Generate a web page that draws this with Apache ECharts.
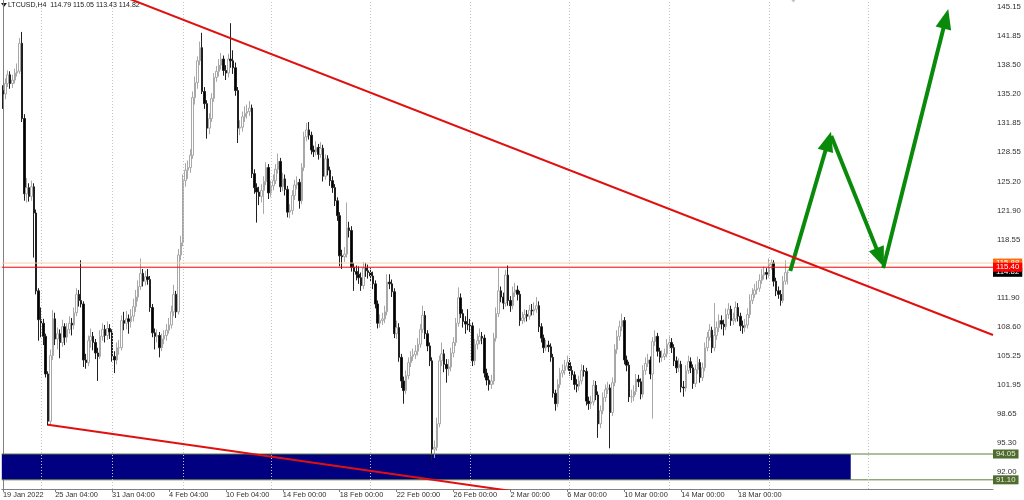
<!DOCTYPE html>
<html><head><meta charset="utf-8">
<script src="https://cdn.jsdelivr.net/npm/echarts@6/dist/echarts.min.js"></script>
<style>html,body{margin:0;padding:0;background:#fff}#c{width:1024px;height:500px}</style>
</head><body><div id="c"></div>
<script>
// ---------- data ----------
const symbolName = 'LTCUSD,H4';
const firstOpen = 135.6;
const closes = [
135.2,136.4,137.4,136.4,136.8,137.6,137.8,141.0,132.4,123.8,
124.5,123.5,124.6,121.6,112.7,109.4,109.0,107.5,103.2,97.8,
105.3,109.5,107.2,107.8,106.8,108.6,107.4,108.3,109.0,108.8,
110.2,112.3,111.6,111.2,104.8,104.5,107.0,107.5,106.8,105.6,
105.2,107.5,108.3,107.6,108.4,108.0,105.2,104.8,106.2,106.2,
109.3,109.0,109.5,109.2,109.8,110.9,112.0,113.2,114.7,113.8,
114.3,114.0,110.8,107.9,107.5,107.6,106.2,107.2,107.6,108.2,
108.8,110.3,112.3,110.3,116.8,118.2,125.3,126.5,126.8,128.2,
134.8,136.5,139.0,140.5,135.5,134.1,131.3,132.4,134.7,137.1,
137.8,138.5,139.2,137.9,137.6,139.2,139.0,138.2,135.6,131.3,
131.4,132.6,133.0,133.2,133.6,126.1,124.5,124.0,123.5,124.2,
125.2,126.8,123.9,124.7,125.3,126.6,127.5,124.6,125.5,124.3,
121.7,121.9,123.6,124.8,125.1,123.0,126.8,130.3,131.1,130.5,
128.8,128.6,129.1,128.3,129.0,125.8,127.8,126.5,125.3,124.5,
123.0,121.3,116.7,116.6,116.9,119.9,119.6,115.4,114.9,114.6,
114.2,113.3,115.3,115.0,114.8,114.4,113.5,111.2,109.0,109.3,
109.5,110.3,113.7,113.5,112.6,107.8,108.5,105.1,102.4,101.3,
103.0,104.5,105.2,105.4,105.8,106.6,108.3,109.9,107.8,106.4,
104.7,94.6,94.8,97.5,104.7,105.5,104.3,103.8,104.0,105.6,
106.8,109.0,111.9,110.1,109.2,108.9,108.8,108.7,104.7,106.6,
107.0,107.5,107.3,103.3,102.5,102.0,102.4,107.3,110.1,112.7,
112.0,111.3,114.5,111.6,111.0,112.5,112.8,112.3,109.3,109.6,
110.0,109.8,110.5,110.4,110.6,111.0,108.6,107.3,106.2,106.5,
106.3,105.1,101.0,99.8,102.0,103.3,103.6,104.1,104.5,103.6,
103.1,102.0,101.8,102.4,103.6,103.5,100.1,99.8,100.0,101.9,
100.8,97.5,99.0,100.5,101.4,101.6,98.8,102.2,106.0,107.5,
108.6,109.3,104.8,104.2,100.6,100.6,101.2,102.6,102.3,100.9,
103.6,104.4,104.8,103.2,106.9,107.5,105.8,105.1,105.2,105.5,
106.6,106.8,106.2,104.7,103.9,104.3,101.7,101.6,103.6,104.6,
103.9,102.1,103.7,104.5,102.8,103.9,106.2,107.4,108.2,106.2,
107.6,108.5,109.3,108.9,108.6,110.0,110.6,109.3,109.5,110.8,
109.8,108.7,108.5,108.8,110.0,111.6,112.3,112.8,113.0,113.9,
114.5,114.8,114.6,115.7,115.9,113.8,112.7,112.3,111.6,113.8,
114.79,114.82];
const highs = [
136.2,137.0,137.9,137.8,137.4,138.1,138.7,141.6,142.3,132.9,
125.6,125.0,125.3,125.0,122.0,113.0,110.8,109.5,107.8,103.5,
106.0,110.5,110.2,108.5,108.3,109.4,109.0,109.0,109.8,109.6,
110.8,113.0,112.8,116.2,111.5,105.5,107.6,108.4,108.0,107.2,
106.2,108.2,109.0,108.8,109.2,108.9,108.3,105.8,106.8,107.1,
109.9,110.3,110.4,110.0,110.6,111.8,112.8,113.9,116.4,115.2,
115.0,115.2,114.4,111.2,108.4,108.3,108.0,107.8,108.2,108.9,
109.6,111.0,113.4,112.7,117.5,119.0,126.0,127.3,127.6,128.9,
135.5,137.2,139.5,141.2,142.2,136.0,134.5,133.0,135.3,137.6,
138.4,139.2,139.9,139.6,138.5,139.8,143.3,140.2,138.8,136.0,
132.2,133.2,133.8,134.0,134.4,134.0,126.6,125.0,124.6,124.9,
125.8,127.4,127.2,125.3,126.0,127.2,128.4,127.9,126.2,126.0,
124.7,122.6,124.2,125.4,125.8,125.5,127.3,130.9,131.9,132.0,
130.9,129.3,129.8,129.5,129.7,129.4,128.3,128.2,126.9,125.8,
124.9,123.4,121.7,117.4,117.7,122.8,120.6,120.1,115.9,115.6,
115.5,114.8,116.0,115.9,115.7,115.3,114.9,113.9,111.6,110.0,
110.2,111.0,114.6,114.6,114.0,113.0,109.3,109.0,105.5,102.9,
103.6,105.1,105.8,106.1,106.5,107.3,108.9,111.0,110.4,108.2,
106.8,105.1,95.6,98.2,105.3,106.8,106.0,104.9,104.9,106.2,
107.4,109.6,113.1,112.4,110.6,109.8,110.6,109.5,109.1,107.2,
107.8,108.4,108.0,107.7,103.8,103.0,103.1,107.9,110.8,115.3,
113.2,112.5,115.1,115.6,112.1,113.2,113.6,113.3,112.7,110.3,
110.6,110.5,111.1,111.2,111.4,112.0,111.5,109.0,107.7,107.1,
107.0,106.7,105.5,101.4,102.6,103.9,104.3,104.8,105.3,105.0,
104.1,103.5,102.6,103.0,104.3,104.2,103.9,100.6,100.7,102.5,
102.4,101.2,99.6,101.1,102.0,102.3,102.0,102.8,106.6,108.2,
109.3,110.1,109.7,105.3,104.6,101.4,101.9,103.2,103.1,102.7,
104.2,105.1,105.5,105.2,107.4,108.2,107.9,106.2,105.9,106.1,
107.2,107.5,107.3,106.6,105.2,105.0,104.7,102.4,104.2,105.3,
105.1,104.3,104.3,105.2,104.9,104.5,106.8,108.0,108.9,108.6,
111.3,109.2,110.0,109.9,109.4,110.7,111.3,111.0,110.2,111.5,
111.3,110.2,109.3,109.5,110.7,112.3,113.0,113.5,113.8,114.6,
115.2,115.5,115.3,116.4,116.3,116.2,114.2,113.2,112.8,114.4,
116.2,115.05];
const lows = [
133.5,134.6,136.0,135.8,135.9,136.4,137.2,137.5,132.0,123.0,
122.8,122.9,123.0,116.5,112.3,107.0,107.4,106.5,102.8,97.3,
97.4,104.8,106.5,106.0,105.0,106.3,106.5,106.8,107.8,107.6,
108.3,109.8,110.9,110.8,104.0,103.8,104.1,106.2,105.9,104.9,
102.4,104.9,107.0,106.8,107.1,107.2,104.6,103.3,104.3,105.4,
105.9,108.2,108.3,107.8,108.5,109.2,110.3,111.5,112.8,113.2,
113.3,113.4,110.3,107.4,106.0,106.8,105.1,105.8,106.6,107.0,
107.8,108.4,109.8,109.6,110.0,116.2,117.8,124.6,125.5,126.2,
127.8,134.0,135.8,138.5,135.2,133.5,130.1,130.6,132.0,134.3,
136.6,137.2,138.0,137.3,136.8,137.1,138.2,137.5,135.0,129.6,
130.5,130.9,132.0,132.4,132.7,125.6,123.8,120.5,122.5,122.8,
121.5,124.8,123.2,123.4,124.2,124.9,126.1,124.0,124.1,123.6,
121.1,121.0,121.4,123.1,124.3,122.1,122.6,126.4,129.8,130.0,
128.3,128.0,128.2,127.7,127.9,125.2,125.4,125.9,124.7,123.9,
122.4,120.7,115.5,115.2,116.0,116.5,118.8,114.9,112.7,113.9,
113.5,112.7,112.9,114.3,114.1,113.8,112.9,110.7,108.4,108.5,
108.8,109.0,109.9,112.9,112.0,107.3,107.2,104.6,101.6,99.8,
100.9,102.6,104.0,104.7,104.9,105.3,106.2,107.9,107.2,105.8,
104.1,93.3,93.6,94.4,97.1,104.1,103.4,102.2,103.0,103.5,
105.1,106.4,108.6,109.6,108.5,107.8,108.2,108.0,104.1,104.2,
106.0,106.6,106.6,102.8,101.9,101.3,101.5,102.0,106.9,109.7,
111.4,110.6,110.9,111.0,110.3,110.6,112.0,111.6,108.7,108.9,
109.1,109.2,109.4,109.9,109.9,110.2,108.0,106.8,105.6,105.8,
105.7,104.6,100.5,99.0,99.4,101.6,102.8,103.1,103.7,103.0,
102.5,101.4,101.1,101.3,102.0,102.9,99.6,99.1,99.2,99.6,
100.2,95.9,97.0,98.6,100.0,100.9,94.7,98.4,101.8,105.5,
107.0,108.1,104.3,103.5,100.0,99.9,100.1,100.8,101.7,100.3,
100.5,103.1,104.0,102.6,98.1,106.4,105.2,104.5,104.6,104.8,
105.1,106.1,105.6,104.1,103.3,103.4,101.1,100.6,101.2,103.2,
103.3,101.5,101.7,103.2,102.2,102.4,103.5,105.8,107.0,105.6,
105.8,107.1,108.0,108.3,107.6,108.2,109.5,108.7,108.8,109.1,
109.2,108.1,107.8,108.0,108.4,109.6,111.2,111.9,112.3,112.6,
113.5,114.0,114.0,114.2,115.1,113.2,112.1,111.8,111.0,111.3,
113.4,113.43];

const slotCount = 418;                 // bars + empty space on the right
const yMin = 90.05, yMax = 145.95;
const yTicks = [145.15,141.85,138.50,135.20,131.85,128.55,125.20,121.90,118.55,111.90,108.60,105.25,101.95,98.65,95.30,92.00];
const xTickIdx = [0,22,46,70,94,118,142,166,190,214,238,262,286,310];
const xTickLabels = ['19 Jan 2022','25 Jan 04:00','31 Jan 04:00','4 Feb 04:00','10 Feb 04:00','14 Feb 00:00','18 Feb 00:00','22 Feb 00:00','26 Feb 00:00','2 Mar 00:00','6 Mar 00:00','10 Mar 00:00','14 Mar 00:00','18 Mar 00:00'];
const gridIdx = [16,46,76,113,155,197,239,281,323,365];

const resistance = 115.40, resistance2 = 115.88, bidPrice = 114.82;
const zoneTop = 94.05, zoneBottom = 91.10, zoneEndIdx = 357.5;
const upperTrend = [[-0.5,151.76],[417.5,107.66]];
const lowerTrend = [[19,97.4],[417.5,81.94]];
const arrowStarts = [[332.0,114.97],[349.3,130.4],[371.2,115.3]];
const arrowEnds   = [[348.0,129.8],[369.9,116.5],[397.6,143.8]];
const diamondPt = [333.3,146.3];

// ---------- build ----------
const opens = closes.map((c,i)=> i===0 ? firstOpen : closes[i-1]);
const candle = closes.map((c,i)=>[opens[i], c, lows[i], highs[i]]);
const cats = Array.from({length: slotCount}, (_,i)=>String(i));
const tickMap = {}; xTickIdx.forEach((k,j)=>tickMap[k]=xTickLabels[j]);
const last = closes.length-1;
const header = symbolName + '  ' + [opens[last],highs[last],lows[last],closes[last]].map(v=>v.toFixed(2)).join(' ');

const FONT = "'Liberation Sans',sans-serif";
const xEnd = slotCount - 0.5;
const clearLine = {color:'rgba(255,255,255,0)', width:1, type:'solid'};
function tag(v, bg, fg){
  return {yAxis: v, lineStyle: clearLine,
    label:{show:true, position:'end', distance:0, formatter: v.toFixed(2), backgroundColor: bg, color: fg,
      padding:[0,3,0,3], fontSize:7.8, lineHeight:9, fontFamily: FONT}};
}
function hline(v, color, z){
  return {type:'line', xAxisIndex:1, data:[[-0.5,v],[xEnd,v]], showSymbol:false, silent:true, z:z,
    lineStyle:{color:color, width:1, type:'solid'}};
}
const hidden = {type:'line', xAxisIndex:1, data:[[0,100]], showSymbol:false, lineStyle:{opacity:0}, silent:true};

const chart = echarts.init(document.getElementById('c'), null, {renderer:'canvas'});
chart.setOption({
  animation:false,
  backgroundColor:'#ffffff',
  grid:{left:0, right:31, top:0, bottom:11, containLabel:false},
  xAxis:[{
    type:'category', data:cats, boundaryGap:true,
    axisLine:{show:true, lineStyle:{color:'#808080'}},
    axisTick:{show:true, alignWithLabel:true, length:3, interval:(i)=>tickMap[i]!==undefined, lineStyle:{color:'#808080'}},
    axisLabel:{show:true, interval:(i)=>tickMap[i]!==undefined, formatter:(v,i)=>tickMap[i]||'',
      align:'left', margin:2, fontSize:7.4, color:'#303030', fontFamily:FONT},
    splitLine:{show:false}
  },{
    type:'value', min:-0.5, max:xEnd, show:false
  }],
  yAxis:{
    type:'value', position:'right', min:yMin, max:yMax, scale:true,
    axisLine:{show:true, lineStyle:{color:'#808080'}},
    axisTick:{show:false},
    axisLabel:{show:true, customValues:yTicks, formatter:(v)=>v.toFixed(2), margin:4, fontSize:7.8, color:'#303030', fontFamily:FONT},
    splitLine:{show:false}
  },
  graphic:[
    {type:'polygon', left:1, top:3, shape:{points:[[0,0],[6,0],[3,4]]}, style:{fill:'#202020'}},
    {type:'text', left:8, top:2, style:{text:header, font:'7px '+FONT, fill:'#202020'}}
  ],
  series:[
    Object.assign({}, hidden, { z:1,
      markArea:{silent:true, itemStyle:{color:'#000080'}, data:[[{xAxis:-0.5, yAxis:zoneTop},{xAxis:zoneEndIdx, yAxis:zoneBottom}]]}
    }),
    Object.assign({}, hidden, { z:2,
      markLine:{silent:true, symbol:'none', label:{show:false},
        lineStyle:{color:'#c4c4c4', type:[1,2], width:1},
        data: gridIdx.map(i=>({xAxis:i}))}
    }),
    {
      type:'candlestick', data:candle, barWidth:2, z:3,
      itemStyle:{color:'#ffffff', borderColor:'#a8a8a8', color0:'#000000', borderColor0:'#202020', borderWidth:1}
    },
    hline(zoneTop, '#5e7d3c', 4),
    hline(zoneBottom, '#5e7d3c', 4),
    hline(resistance2, '#f5cfa8', 4),
    hline(resistance, '#ff0000', 4),
    Object.assign({}, hidden, { z:7,
      markLine:{silent:true, symbol:'none', lineStyle: clearLine, data:[tag(bidPrice,'#000000','#ffffff')]}
    }),
    Object.assign({}, hidden, { z:8,
      markLine:{silent:true, symbol:'none', lineStyle: clearLine,
        data:[
          tag(zoneTop,'#4f6b2f','#e4eed8'),
          tag(zoneBottom,'#4f6b2f','#e4eed8'),
          tag(resistance2,'#ff6a10','#ffffff'),
          tag(resistance,'#ff0000','#ffffff')
        ]}
    }),
    {type:'line', xAxisIndex:1, data:upperTrend, showSymbol:false, clip:true, z:5, silent:true, lineStyle:{color:'#e01010', width:2}},
    {type:'line', xAxisIndex:1, data:lowerTrend, showSymbol:false, clip:true, z:5, silent:true, lineStyle:{color:'#e01010', width:2}},
    Object.assign({}, hidden, { z:6,
      markLine:{silent:true, label:{show:false}, lineStyle:{color:'#0a8a0a', width:4, type:'solid'},
        data: arrowStarts.map((s,k)=>[{coord:s, symbol:'none'},{coord:arrowEnds[k], symbol:'triangle', symbolSize:[16,20]}])}
    }),
    {type:'scatter', xAxisIndex:1, data:[diamondPt], symbol:'diamond', symbolSize:[9,11], clip:false, z:6, silent:true,
      itemStyle:{color:'#b0b0b0'}}
  ]
});
</script></body></html>
